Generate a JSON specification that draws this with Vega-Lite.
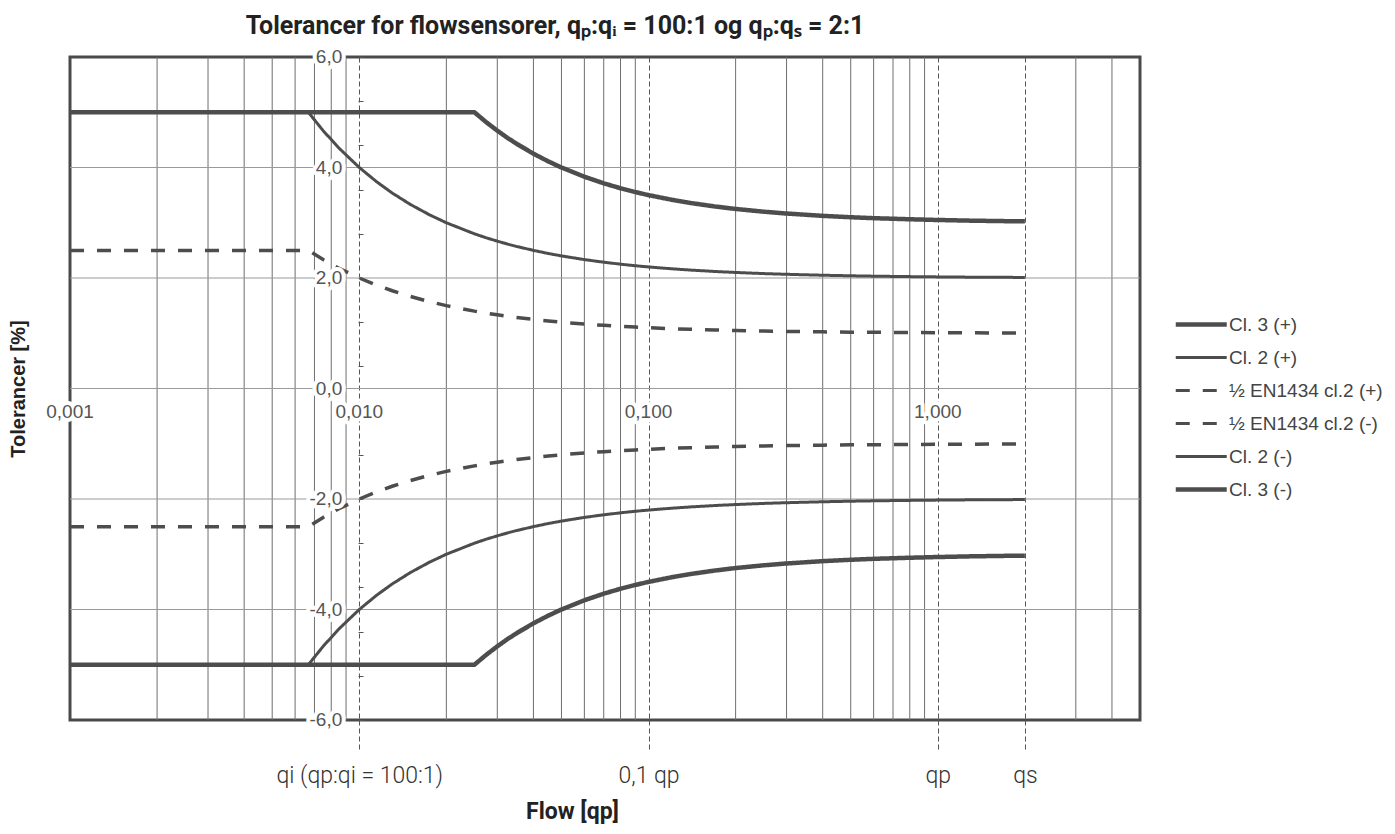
{
  "$schema": "https://vega.github.io/schema/vega-lite/v6.json",
  "width": 1070,
  "height": 663,
  "autosize": "none",
  "padding": {"left": 70, "top": 57, "right": 255, "bottom": 114},
  "background": "white",
  "config": {"view": {"stroke": "#4a4a4a", "strokeWidth": 3}},
  "title": {
    "text": "Tolerancer for flowsensorer, qₚ:qᵢ = 100:1 og qₚ:qₛ = 2:1",
    "font": "Roboto", "fontSize": 25, "fontWeight": "bold", "color": "#222222",
    "anchor": "middle", "dx": -50, "offset": 9
  },
  "datasets": {
    "curves": [
      {"q": 0.001, "c3p": 5, "c2p": 5, "enp": 2.5, "enn": -2.5, "c2n": -5, "c3n": -5},
      {"q": 0.006667, "c3p": 5, "c2p": 5, "enp": 2.5, "enn": -2.5, "c2n": -5, "c3n": -5},
      {"q": 0.0075, "c3p": 5, "c2p": 4.667, "enp": 2.333, "enn": -2.333, "c2n": -4.667, "c3n": -5},
      {"q": 0.0085, "c3p": 5, "c2p": 4.353, "enp": 2.176, "enn": -2.176, "c2n": -4.353, "c3n": -5},
      {"q": 0.01, "c3p": 5, "c2p": 4.0, "enp": 2.0, "enn": -2.0, "c2n": -4.0, "c3n": -5},
      {"q": 0.0115, "c3p": 5, "c2p": 3.739, "enp": 1.87, "enn": -1.87, "c2n": -3.739, "c3n": -5},
      {"q": 0.013, "c3p": 5, "c2p": 3.538, "enp": 1.769, "enn": -1.769, "c2n": -3.538, "c3n": -5},
      {"q": 0.015, "c3p": 5, "c2p": 3.333, "enp": 1.667, "enn": -1.667, "c2n": -3.333, "c3n": -5},
      {"q": 0.0175, "c3p": 5, "c2p": 3.143, "enp": 1.571, "enn": -1.571, "c2n": -3.143, "c3n": -5},
      {"q": 0.02, "c3p": 5, "c2p": 3.0, "enp": 1.5, "enn": -1.5, "c2n": -3.0, "c3n": -5},
      {"q": 0.025, "c3p": 5, "c2p": 2.8, "enp": 1.4, "enn": -1.4, "c2n": -2.8, "c3n": -5},
      {"q": 0.0275, "c3p": 4.818, "c2p": 2.727, "enp": 1.364, "enn": -1.364, "c2n": -2.727, "c3n": -4.818},
      {"q": 0.03, "c3p": 4.667, "c2p": 2.667, "enp": 1.333, "enn": -1.333, "c2n": -2.667, "c3n": -4.667},
      {"q": 0.0325, "c3p": 4.538, "c2p": 2.615, "enp": 1.308, "enn": -1.308, "c2n": -2.615, "c3n": -4.538},
      {"q": 0.035, "c3p": 4.429, "c2p": 2.571, "enp": 1.286, "enn": -1.286, "c2n": -2.571, "c3n": -4.429},
      {"q": 0.04, "c3p": 4.25, "c2p": 2.5, "enp": 1.25, "enn": -1.25, "c2n": -2.5, "c3n": -4.25},
      {"q": 0.045, "c3p": 4.111, "c2p": 2.444, "enp": 1.222, "enn": -1.222, "c2n": -2.444, "c3n": -4.111},
      {"q": 0.05, "c3p": 4.0, "c2p": 2.4, "enp": 1.2, "enn": -1.2, "c2n": -2.4, "c3n": -4.0},
      {"q": 0.06, "c3p": 3.833, "c2p": 2.333, "enp": 1.167, "enn": -1.167, "c2n": -2.333, "c3n": -3.833},
      {"q": 0.07, "c3p": 3.714, "c2p": 2.286, "enp": 1.143, "enn": -1.143, "c2n": -2.286, "c3n": -3.714},
      {"q": 0.08, "c3p": 3.625, "c2p": 2.25, "enp": 1.125, "enn": -1.125, "c2n": -2.25, "c3n": -3.625},
      {"q": 0.09, "c3p": 3.556, "c2p": 2.222, "enp": 1.111, "enn": -1.111, "c2n": -2.222, "c3n": -3.556},
      {"q": 0.1, "c3p": 3.5, "c2p": 2.2, "enp": 1.1, "enn": -1.1, "c2n": -2.2, "c3n": -3.5},
      {"q": 0.12, "c3p": 3.417, "c2p": 2.167, "enp": 1.083, "enn": -1.083, "c2n": -2.167, "c3n": -3.417},
      {"q": 0.14, "c3p": 3.357, "c2p": 2.143, "enp": 1.071, "enn": -1.071, "c2n": -2.143, "c3n": -3.357},
      {"q": 0.17, "c3p": 3.294, "c2p": 2.118, "enp": 1.059, "enn": -1.059, "c2n": -2.118, "c3n": -3.294},
      {"q": 0.2, "c3p": 3.25, "c2p": 2.1, "enp": 1.05, "enn": -1.05, "c2n": -2.1, "c3n": -3.25},
      {"q": 0.25, "c3p": 3.2, "c2p": 2.08, "enp": 1.04, "enn": -1.04, "c2n": -2.08, "c3n": -3.2},
      {"q": 0.3, "c3p": 3.167, "c2p": 2.067, "enp": 1.033, "enn": -1.033, "c2n": -2.067, "c3n": -3.167},
      {"q": 0.4, "c3p": 3.125, "c2p": 2.05, "enp": 1.025, "enn": -1.025, "c2n": -2.05, "c3n": -3.125},
      {"q": 0.5, "c3p": 3.1, "c2p": 2.04, "enp": 1.02, "enn": -1.02, "c2n": -2.04, "c3n": -3.1},
      {"q": 0.6, "c3p": 3.083, "c2p": 2.033, "enp": 1.017, "enn": -1.017, "c2n": -2.033, "c3n": -3.083},
      {"q": 0.8, "c3p": 3.063, "c2p": 2.025, "enp": 1.013, "enn": -1.013, "c2n": -2.025, "c3n": -3.063},
      {"q": 1, "c3p": 3.05, "c2p": 2.02, "enp": 1.01, "enn": -1.01, "c2n": -2.02, "c3n": -3.05},
      {"q": 1.3, "c3p": 3.038, "c2p": 2.015, "enp": 1.008, "enn": -1.008, "c2n": -2.015, "c3n": -3.038},
      {"q": 1.6, "c3p": 3.031, "c2p": 2.013, "enp": 1.006, "enn": -1.006, "c2n": -2.013, "c3n": -3.031},
      {"q": 2, "c3p": 3.025, "c2p": 2.01, "enp": 1.005, "enn": -1.005, "c2n": -2.01, "c3n": -3.025}
    ],
    "vgrid": [
      {"q": 0.002}, {"q": 0.003}, {"q": 0.004}, {"q": 0.005}, {"q": 0.006}, {"q": 0.007}, {"q": 0.008}, {"q": 0.009},
      {"q": 0.02}, {"q": 0.03}, {"q": 0.04}, {"q": 0.05}, {"q": 0.06}, {"q": 0.07}, {"q": 0.08}, {"q": 0.09},
      {"q": 0.2}, {"q": 0.3}, {"q": 0.4}, {"q": 0.5}, {"q": 0.6}, {"q": 0.7}, {"q": 0.8}, {"q": 0.9},
      {"q": 3}, {"q": 4}
    ],
    "hgrid": [{"v": -4}, {"v": -2}, {"v": 0}, {"v": 2}, {"v": 4}],
    "ylabels": [
      {"v": 6, "t": "6,0"}, {"v": 4, "t": "4,0"}, {"v": 2, "t": "2,0"}, {"v": 0, "t": "0,0"},
      {"v": -2, "t": "-2,0"}, {"v": -4, "t": "-4,0"}, {"v": -6, "t": "-6,0"}
    ],
    "xlabels": [
      {"q": 0.001, "t": "0,001"}, {"q": 0.01, "t": "0,010"}, {"q": 0.1, "t": "0,100"}, {"q": 1, "t": "1,000"}
    ]
  },
  "layer": [
    {
      "data": {"name": "vgrid"},
      "mark": {"type": "rule", "stroke": "#6e6e6e", "strokeWidth": 1},
      "encoding": {
        "x": {
          "field": "q", "type": "quantitative",
          "scale": {"type": "log", "domain": [0.001, 5], "nice": false},
          "axis": {
            "orient": "bottom",
            "values": [0.01, 0.1, 1, 2],
            "grid": true, "gridColor": "#555555", "gridDash": [5, 3], "gridWidth": 1,
            "ticks": true, "tickSize": 30, "tickDash": [5, 3], "tickColor": "#555555", "tickWidth": 1,
            "domain": false,
            "labelExpr": "datum.value < 0.05 ? 'qi (qp:qi = 100:1)' : datum.value < 0.5 ? '0,1 qp' : datum.value < 1.5 ? 'qp' : 'qs'",
            "labelFont": "Roboto", "labelFontWeight": 300, "labelFontSize": 23, "labelColor": "#333333",
            "labelPadding": 25, "labelBaseline": "middle", "labelFlush": false, "labelOverlap": false,
            "title": "Flow [qp]", "titleFont": "Roboto", "titleFontSize": 23, "titleFontWeight": "bold",
            "titleColor": "#222222", "titleX": 502, "titleY": 91, "titleBaseline": "middle", "titleAlign": "center"
          }
        }
      }
    },
    {
      "data": {"name": "hgrid"},
      "mark": {"type": "rule", "stroke": "#9a9a9a", "strokeWidth": 1.2},
      "encoding": {
        "y": {
          "field": "v", "type": "quantitative",
          "scale": {"domain": [-6, 6], "nice": false, "zero": false},
          "axis": {
            "orient": "left", "offset": -288,
            "values": [-6, -5.6, -5.2, -4.8, -4.4, -4, -3.6, -3.2, -2.8, -2.4, -2, -1.6, -1.2, -0.8, -0.4, 0, 0.4, 0.8, 1.2, 1.6, 2, 2.4, 2.8, 3.2, 3.6, 4, 4.4, 4.8, 5.2, 5.6, 6],
            "labels": false, "ticks": true, "tickSize": -5, "tickColor": "#555555", "tickWidth": 1,
            "domain": false, "grid": false,
            "title": "Tolerancer [%]", "titleX": -340, "titleY": 331.5, "titleAngle": -90,
            "titleAlign": "center", "titleBaseline": "middle",
            "titleFont": "Liberation Sans", "titleFontSize": 20, "titleFontWeight": "bold", "titleColor": "#222222"
          }
        }
      }
    },
    {
      "data": {"name": "curves"},
      "transform": [
        {"fold": ["c3p", "c2p", "enp", "enn", "c2n", "c3n"], "as": ["s", "v"]},
        {"filter": "datum.s == 'enp' || datum.s == 'enn'"}
      ],
      "mark": {"type": "line", "stroke": "#4d4d4d", "strokeWidth": 3.5},
      "encoding": {
        "x": {"field": "q", "type": "quantitative"},
        "y": {"field": "v", "type": "quantitative"},
        "strokeDash": {
          "field": "s", "type": "nominal",
          "scale": {"domain": ["c3p", "c2p", "enp", "enn", "c2n", "c3n"], "range": [[1, 0], [1, 0], [14, 13], [14, 13], [1, 0], [1, 0]]},
          "legend": {
            "title": null, "orient": "none", "legendX": 1109, "legendY": 258, "padding": 0,
            "symbolType": "M-1,0H3", "symbolSize": 650, "symbolStrokeColor": "#4d4d4d",
            "rowPadding": 13, "labelOffset": 31,
            "labelFont": "Liberation Sans", "labelFontSize": 19, "labelColor": "#444444",
            "labelExpr": "datum.value == 'c3p' ? 'Cl. 3 (+)' : datum.value == 'c2p' ? 'Cl. 2 (+)' : datum.value == 'enp' ? '½ EN1434 cl.2 (+)' : datum.value == 'enn' ? '½ EN1434 cl.2 (-)' : datum.value == 'c2n' ? 'Cl. 2 (-)' : 'Cl. 3 (-)'",
            "encode": {"symbols": {"update": {"strokeWidth": {"signal": "datum.value == 'c3p' || datum.value == 'c3n' ? 4.5 : 3"}}}}
          }
        }
      }
    },
    {
      "data": {"name": "curves"},
      "transform": [
        {"fold": ["c3p", "c2p", "enp", "enn", "c2n", "c3n"], "as": ["s", "v"]},
        {"filter": "datum.s == 'c2p' || datum.s == 'c2n'"}
      ],
      "mark": {"type": "line", "stroke": "#4d4d4d", "strokeWidth": 3},
      "encoding": {
        "x": {"field": "q", "type": "quantitative"},
        "y": {"field": "v", "type": "quantitative"},
        "strokeDash": {"field": "s", "type": "nominal"}
      }
    },
    {
      "data": {"name": "curves"},
      "transform": [
        {"fold": ["c3p", "c2p", "enp", "enn", "c2n", "c3n"], "as": ["s", "v"]},
        {"filter": "datum.s == 'c3p' || datum.s == 'c3n'"}
      ],
      "mark": {"type": "line", "stroke": "#4d4d4d", "strokeWidth": 4.5},
      "encoding": {
        "x": {"field": "q", "type": "quantitative"},
        "y": {"field": "v", "type": "quantitative"},
        "strokeDash": {"field": "s", "type": "nominal"}
      }
    },
    {
      "data": {"name": "ylabels"},
      "layer": [
        {
          "mark": {"type": "text", "align": "right", "baseline": "middle", "dx": -17, "font": "Liberation Sans", "fontSize": 19, "fill": "white", "stroke": "white", "strokeWidth": 8, "strokeJoin": "round"},
          "encoding": {"x": {"datum": 0.01}, "y": {"field": "v", "type": "quantitative"}, "text": {"field": "t"}}
        },
        {
          "mark": {"type": "text", "align": "right", "baseline": "middle", "dx": -17, "font": "Liberation Sans", "fontSize": 19, "fill": "#555555"},
          "encoding": {"x": {"datum": 0.01}, "y": {"field": "v", "type": "quantitative"}, "text": {"field": "t"}}
        }
      ]
    },
    {
      "data": {"name": "xlabels"},
      "layer": [
        {
          "mark": {"type": "text", "align": "center", "baseline": "middle", "dy": 23, "font": "Liberation Sans", "fontSize": 19, "fill": "white", "stroke": "white", "strokeWidth": 8, "strokeJoin": "round"},
          "encoding": {"x": {"field": "q", "type": "quantitative"}, "y": {"datum": 0}, "text": {"field": "t"}}
        },
        {
          "mark": {"type": "text", "align": "center", "baseline": "middle", "dy": 23, "font": "Liberation Sans", "fontSize": 19, "fill": "#555555"},
          "encoding": {"x": {"field": "q", "type": "quantitative"}, "y": {"datum": 0}, "text": {"field": "t"}}
        }
      ]
    }
  ]
}
